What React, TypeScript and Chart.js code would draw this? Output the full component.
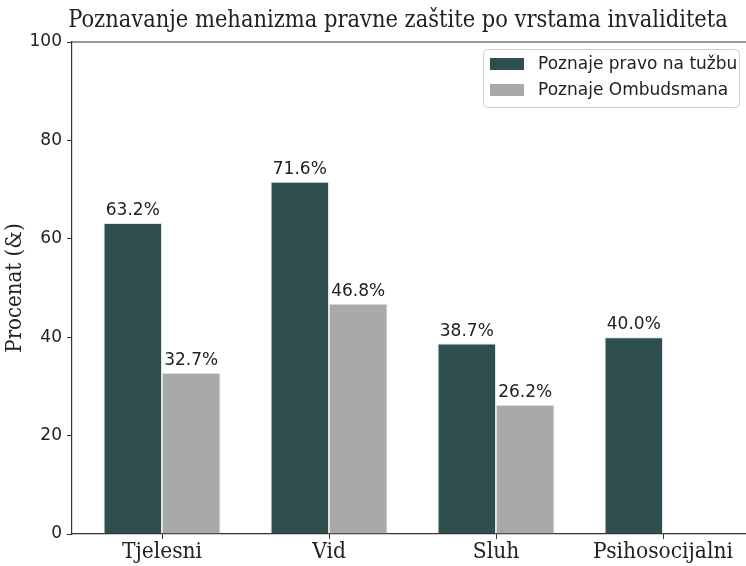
import React, { useEffect, useRef } from "react";
import { Chart, registerables } from "chart.js";

Chart.register(...registerables);

const categories = ["Tjelesni", "Vid", "Sluh", "Psihosocijalni"];
const seriesNames = ["Poznaje pravo na tužbu", "Poznaje Ombudsmana"];
const tuzbaValues: (number | null)[] = [63.2, 71.6, 38.7, 40.0];
const ombudsmanValues: (number | null)[] = [32.7, 46.8, 26.2, null];
const yTicks = [0, 20, 40, 60, 80, 100];
const titleText = "Poznavanje mehanizma pravne zaštite po vrstama invaliditeta";
const yTitle = "Procenat (&)";

const DARK = "#2f4f4f";
const GREY = "#a9a9a9";
const SERIF = "'DejaVu Serif Condensed', 'DejaVu Serif', serif";
const SANS = "'DejaVu Sans', sans-serif";

export default function App() {
  const ref = useRef<HTMLCanvasElement>(null);
  useEffect(() => {
    const canvas = ref.current!;
    const decor = {
      id: "decor",
      afterDatasetsDraw(chart: any) {
        const ctx = chart.ctx;
        ctx.save();
        ctx.font = `17px ${SANS}`;
        ctx.fillStyle = "#222";
        ctx.textAlign = "center";
        ctx.textBaseline = "bottom";
        chart.data.datasets.forEach((ds: any, di: number) => {
          const meta = chart.getDatasetMeta(di);
          meta.data.forEach((el: any, i: number) => {
            const v = ds.data[i].y;
            if (v === null || v === undefined) return;
            ctx.fillText(v.toFixed(1) + "%", el.x, el.y - 4);
          });
        });
        ctx.restore();
      },
      afterDraw(chart: any) {
        const ctx = chart.ctx;
        const a = chart.chartArea;
        ctx.save();
        // top spine
        ctx.strokeStyle = "#333";
        ctx.lineWidth = 1.2;
        ctx.beginPath();
        ctx.moveTo(a.left, a.top);
        ctx.lineTo(a.right, a.top);
        ctx.stroke();
        // title
        ctx.font = `23.4px ${SERIF}`;
        ctx.fillStyle = "#222";
        ctx.textAlign = "center";
        ctx.textBaseline = "alphabetic";
        ctx.fillText(titleText, 398, 27);
        // legend
        const lx = 483, ly = 49, lw = 256, lh = 58;
        ctx.fillStyle = "rgba(255,255,255,0.85)";
        ctx.strokeStyle = "#cccccc";
        ctx.lineWidth = 1;
        ctx.beginPath();
        (ctx as any).roundRect(lx + 0.5, ly + 0.5, lw, lh, 4);
        ctx.fill();
        ctx.stroke();
        const colors = [DARK, GREY];
        ctx.font = `17px ${SANS}`;
        ctx.textAlign = "left";
        ctx.textBaseline = "middle";
        seriesNames.forEach((n, i) => {
          const cy = ly + 15 + i * 26;
          ctx.fillStyle = colors[i];
          ctx.fillRect(lx + 7, cy - 6, 34, 12);
          ctx.fillStyle = "#222";
          ctx.fillText(n, lx + 55, cy + 1);
        });
        ctx.restore();
      },
    };
    const chart = new Chart(canvas, {
      type: "bar",
      data: {
        datasets: [
          {
            label: seriesNames[0],
            data: tuzbaValues.map((y, i) => ({ x: i, y })) as any,
            backgroundColor: DARK,
            borderColor: "rgba(200,215,215,0.6)",
            borderWidth: 1,
          },
          {
            label: seriesNames[1],
            data: ombudsmanValues.map((y, i) => ({ x: i, y })) as any,
            backgroundColor: GREY,
            borderColor: "rgba(200,200,200,0.6)",
            borderWidth: 1,
          },
        ],
      },
      options: {
        responsive: false,
        animation: false,
        layout: { padding: { top: 42, right: 0, left: 0, bottom: 0 } },
        datasets: { bar: { categoryPercentage: 0.7, barPercentage: 1.0 } },
        plugins: { legend: { display: false }, tooltip: { enabled: false } },
        scales: {
          x: {
            type: "linear",
            offset: false,
            min: -0.539,
            max: 3.497,
            afterBuildTicks: (s: any) => {
              s.ticks = categories.map((_, i) => ({ value: i }));
            },
            afterFit: (s: any) => {
              s.height = 32;
            },
            ticks: {
              callback: (v: any) => categories[v as number] ?? "",
              font: { family: SERIF, size: 22.5 },
              color: "#222",
              padding: 0,
              maxRotation: 0,
              autoSkip: false,
            },
            grid: { display: true, offset: false, drawOnChartArea: false, drawTicks: true, tickLength: 5, color: "#333", lineWidth: 1 },
            border: { display: true, color: "#333", width: 1.2 },
          },
          y: {
            min: 0,
            max: 100,
            afterBuildTicks: (s: any) => {
              s.ticks = yTicks.map((v) => ({ value: v }));
            },
            afterFit: (s: any) => {
              s.width = 72;
            },
            ticks: {
              font: { family: SANS, size: 17 },
              color: "#222",
              padding: 5,
            },
            grid: { display: true, drawOnChartArea: false, drawTicks: true, tickLength: 5, color: "#333", lineWidth: 1 },
            border: { display: true, color: "#333", width: 1.2 },
            title: {
              display: true,
              text: yTitle,
              font: { family: SERIF, size: 22 },
              color: "#222",
              padding: { top: 2, bottom: 0 },
            },
          },
        },
      },
      plugins: [decor],
    });
    return () => chart.destroy();
  }, []);
  return (
    <div style={{ position: "absolute", left: 0, top: 0, width: 746, height: 566 }}>
      <canvas ref={ref} width={746} height={566} />
    </div>
  );
}
